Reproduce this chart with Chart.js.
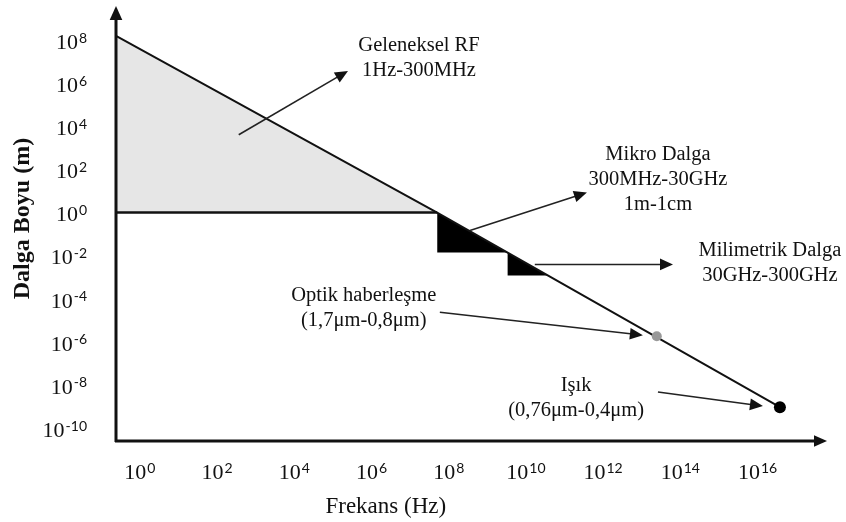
<!DOCTYPE html>
<html>
<head>
<meta charset="utf-8">
<script src="https://cdn.jsdelivr.net/npm/chart.js@4/dist/chart.umd.min.js"></script>
<style>
  html, body { margin: 0; padding: 0; background: #fff; }
  #wrap { width: 846px; height: 522px; }
</style>
</head>
<body>
<div id="wrap"><canvas id="chart" width="846" height="522"></canvas></div>
<script>
// exponents: x = log10(frequency Hz), y = log10(wavelength m)
const freqTicks = [0, 2, 4, 6, 8, 10, 12, 14, 16];
const waveTicks = [8, 6, 4, 2, 0, -2, -4, -6, -8, -10];

const lineFreq = [-0.62, 7.7, 16.58];
const lineWave = [8.19, 0, -9.03];

const rfFreq = [-0.62, 7.7];
const rfWave = [8.19, 0];
const microFreq = [7.7, 9.52];
const microWave = [0, -1.85];
const mmFreq = [9.52, 10.57];
const mmWave = [-1.85, -2.92];

const opticFreq = [13.39];
const opticWave = [-5.74];
const lightFreq = [16.58];
const lightWave = [-9.03];

const noteLines = [
  ['Geleneksel RF', '1Hz-300MHz'],
  ['Mikro Dalga', '300MHz-30GHz', '1m-1cm'],
  ['Milimetrik Dalga', '30GHz-300GHz'],
  ['Optik haberleşme', '(1,7μm-0,8μm)'],
  ['Işık', '(0,76μm-0,4μm)']
];
const noteX = [7.23, 13.42, 16.32, 5.80, 11.30];
const noteY = [7.73, 2.69, -1.76, -3.84, -8.01];
const arrowFrom = [[2.56, 3.61], [8.55, -0.83], [10.23, -2.41], [7.77, -4.63], [13.42, -8.33]];
const arrowTo = [[5.39, 6.57], [11.58, 0.93], [13.81, -2.41], [13.03, -5.69], [16.14, -8.98]];

const xTitle = 'Frekans (Hz)';
const yTitle = 'Dalga Boyu (m)';

function pts(xs, ys) {
  return xs.map((x, i) => ({ x: x, y: ys[i] }));
}

const SERIF = '"Liberation Serif", "Times New Roman", serif';
const SUPFONT = 'Lato, "Open Sans", sans-serif';

function arrow(ctx, x1, y1, x2, y2, size, width) {
  const a = Math.atan2(y2 - y1, x2 - x1);
  ctx.beginPath();
  ctx.moveTo(x1, y1);
  ctx.lineTo(x2 - Math.cos(a) * size * 0.8, y2 - Math.sin(a) * size * 0.8);
  ctx.lineWidth = width;
  ctx.stroke();
  ctx.beginPath();
  ctx.moveTo(x2, y2);
  ctx.lineTo(x2 - Math.cos(a) * size - Math.sin(a) * size * 0.45, y2 - Math.sin(a) * size + Math.cos(a) * size * 0.45);
  ctx.lineTo(x2 - Math.cos(a) * size + Math.sin(a) * size * 0.45, y2 - Math.sin(a) * size - Math.cos(a) * size * 0.45);
  ctx.closePath();
  ctx.fill();
}

// 10 with a raised exponent, centred on (cx, cy) or right aligned at cx
function powerLabel(ctx, exp, cx, cy, align) {
  const base = '10', sup = String(exp);
  ctx.font = '22px ' + SERIF;
  const wb = ctx.measureText(base).width;
  ctx.font = '14px ' + SUPFONT;
  const ws = ctx.measureText(sup).width;
  const total = wb + ws + 1;
  const left = align === 'right' ? cx - total : cx - total / 2;
  ctx.textBaseline = 'middle';
  ctx.textAlign = 'left';
  ctx.font = '22px ' + SERIF;
  ctx.fillText(base, left, cy);
  ctx.font = '14px ' + SUPFONT;
  ctx.fillText(sup, left + wb + 1, cy - 5);
}

const drawings = {
  id: 'drawings',
  afterDraw(chart) {
    const ctx = chart.ctx;
    const area = chart.chartArea;
    const xs = chart.scales.x, ys = chart.scales.y;
    ctx.save();
    ctx.fillStyle = '#111';
    ctx.strokeStyle = '#111';

    // axes with arrows
    arrow(ctx, area.left, area.bottom + 1, area.left, area.top, 14, 3);
    arrow(ctx, area.left - 1, area.bottom, area.right, area.bottom, 13, 3);

    // tick labels
    freqTicks.forEach(v => powerLabel(ctx, v, xs.getPixelForValue(v), area.bottom + 32, 'center'));
    waveTicks.forEach(v => powerLabel(ctx, v, area.left - 29, ys.getPixelForValue(v) + 3, 'right'));

    // annotation arrows
    ctx.strokeStyle = '#222';
    ctx.fillStyle = '#111';
    arrowFrom.forEach((f, i) => {
      const t = arrowTo[i];
      arrow(ctx, xs.getPixelForValue(f[0]), ys.getPixelForValue(f[1]),
        xs.getPixelForValue(t[0]), ys.getPixelForValue(t[1]), 13, 1.6);
    });

    // annotation texts
    ctx.font = '20.5px ' + SERIF;
    ctx.textAlign = 'center';
    ctx.textBaseline = 'middle';
    noteLines.forEach((lines, i) => {
      const cx = xs.getPixelForValue(noteX[i]);
      const cy = ys.getPixelForValue(noteY[i]);
      lines.forEach((s, j) => ctx.fillText(s, cx, cy + j * 25));
    });

    // axis titles
    ctx.font = '23px ' + SERIF;
    ctx.fillText(xTitle, xs.getPixelForValue(6.37), area.bottom + 66);
    ctx.save();
    ctx.translate(area.left - 93, ys.getPixelForValue(-0.28));
    ctx.rotate(-Math.PI / 2);
    ctx.font = 'bold 24px ' + SERIF;
    ctx.fillText(yTitle, 0, 0);
    ctx.restore();
    ctx.restore();
  }
};

// first dataset is drawn on top
new Chart(document.getElementById('chart'), {
  type: 'line',
  data: {
    datasets: [
      { data: pts(lightFreq, lightWave), showLine: false, pointRadius: 6, pointBackgroundColor: '#000', pointBorderWidth: 0 },
      { data: pts(opticFreq, opticWave), showLine: false, pointRadius: 5, pointBackgroundColor: '#999', pointBorderWidth: 0 },
      { data: pts(lineFreq, lineWave), borderColor: '#111', borderWidth: 2, pointRadius: 0, fill: false, tension: 0 },
      { data: pts([rfFreq[0], rfFreq[1]], [0, 0]), borderColor: '#111', borderWidth: 2.5, pointRadius: 0, fill: false },
      { data: pts(mmFreq, mmWave), fill: { value: mmWave[1] }, backgroundColor: '#000', borderColor: 'transparent', borderWidth: 1, pointRadius: 0 },
      { data: pts(microFreq, microWave), fill: { value: microWave[1] }, backgroundColor: '#000', borderColor: 'transparent', borderWidth: 1, pointRadius: 0 },
      { data: pts(rfFreq, rfWave), fill: { value: 0 }, backgroundColor: '#e6e6e6', borderColor: 'transparent', borderWidth: 1, pointRadius: 0 }
    ]
  },
  options: {
    responsive: false,
    animation: false,
    layout: { padding: { left: 116, top: 5, right: 19, bottom: 81 } },
    plugins: { legend: { display: false }, tooltip: { enabled: false } },
    scales: {
      x: { type: 'linear', min: -0.62, max: 17.8, display: false },
      y: { type: 'linear', min: -10.6, max: 9.58, display: false }
    }
  },
  plugins: [drawings]
});
</script>
</body>
</html>
